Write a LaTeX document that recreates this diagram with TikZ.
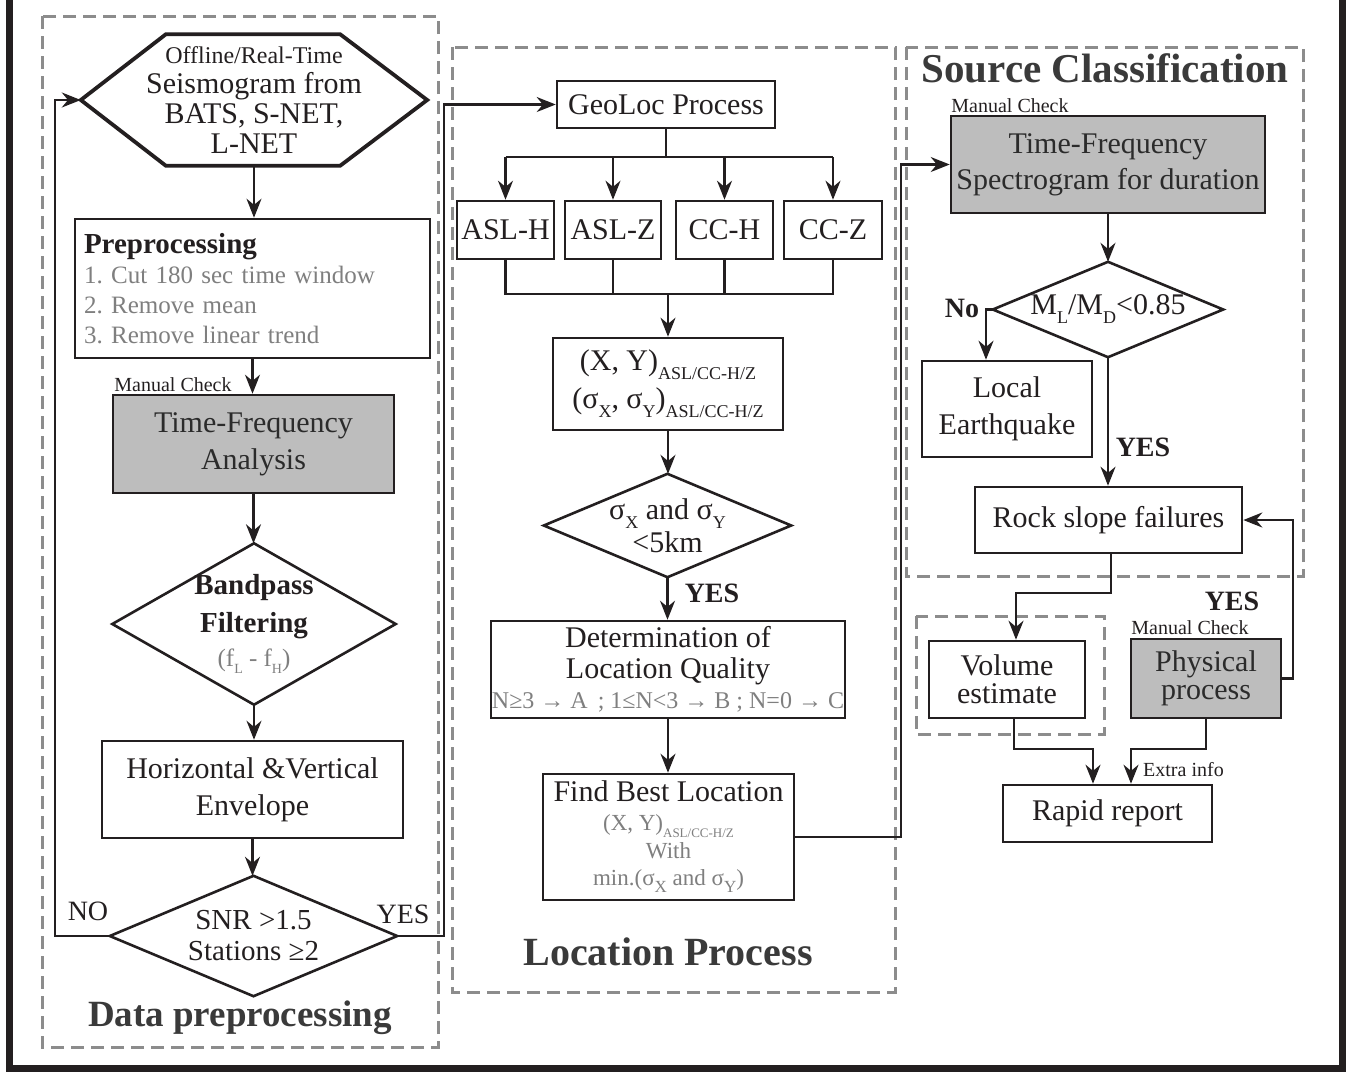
\documentclass[tikz,border=0pt]{standalone}
\usepackage{fontspec}
\setmainfont{Liberation Serif}
\usetikzlibrary{arrows.meta}
\frenchspacing
\newcommand{\fsz}[2]{\fontsize{#1}{#2}\selectfont}
\newcommand{\lsub}[2]{\raisebox{-0.3em}{\fontsize{#1}{#1}\selectfont #2}}
\definecolor{lc}{HTML}{231F20}
\definecolor{dgray}{HTML}{8C8C8C}
\definecolor{boxgray}{HTML}{BDBDBD}
\definecolor{tdark}{HTML}{2B2B2B}
\definecolor{tgray}{HTML}{7F7F7F}
\definecolor{ttitle}{HTML}{3A3A3A}
\begin{document}
\begin{tikzpicture}[x=1pt,y=-1pt,
  box/.style={draw=lc, line width=2.6pt, fill=white, inner sep=0pt, align=center, text=lc},
  gbox/.style={box, fill=boxgray, text=tdark},
  shapeonly/.style={inner sep=0pt, align=center, text=lc},
  dbox/.style={draw=dgray, line width=3pt, dash pattern=on 13pt off 7pt},
  ln/.style={draw=lc, line width=2.3pt},
  arr/.style={draw=lc, line width=2.3pt, -{Stealth[length=19pt,width=15pt]}},
  lbl/.style={inner sep=0pt, text=lc},
  title/.style={inner sep=0pt, text=ttitle, font=\bfseries}
]
\useasboundingbox (0,0) rectangle (1351,1072);
% outer frame
\draw[lc, line width=7pt] (9,0) -- (9,1068.5) -- (1342,1068.5) -- (1342,0);

% dashed groups
\draw[dbox] (42,16) rectangle (438,1047);
\draw[dbox] (452,47) rectangle (895,992);
\draw[dbox] (906,47) rectangle (1303,576);
\draw[dbox] (916,616) rectangle (1104,734);

% ---------- Data preprocessing ----------
\node[shapeonly, minimum width=346pt, minimum height=131pt, font=\fsz{30}{30}] (src) at (254,100)
  {{\fsz{24}{30}Offline/Real-Time}\\ Seismogram from\\ BATS, S-NET,\\ L-NET};
\draw[lc, line width=3.8pt, line join=miter]
  (src.west) -- ([xshift=85pt]src.north west) -- ([xshift=-87pt]src.north east) -- (src.east)
  -- ([xshift=-87pt]src.south east) -- ([xshift=85pt]src.south west) -- cycle;

\node[box, minimum width=355pt, minimum height=139pt, text width=337pt, inner xsep=9pt, align=left,
      font=\fsz{25}{30}, text=tgray] (pre) at (252.5,288.5)
  {{\fsz{29}{30}\bfseries\color{lc}Preprocessing}\\
   1. Cut 180 sec time window\\ 2. Remove mean\\ 3. Remove linear trend\\[-10pt]};

\node[lbl, font=\fsz{20}{20}] (mc1) at (173,385) {Manual Check};
\node[gbox, minimum width=281pt, minimum height=98pt, font=\fsz{30}{37}] (tfa) at (253.5,444)
  {Time-Frequency\\ Analysis};

\node[shapeonly, minimum width=283pt, minimum height=161pt, font=\fsz{29}{38}\bfseries] (bp) at (254,624)
  {Bandpass\\ Filtering\\[-4pt] {\fsz{25}{28}\mdseries\color{tgray}(f\lsub{14}{L} - f\lsub{14}{H})}};
\draw[lc, line width=2.6pt] (bp.north) -- (bp.east) -- (bp.south) -- (bp.west) -- cycle;

\node[box, minimum width=301pt, minimum height=97pt, font=\fsz{30}{37}] (env) at (252.5,789.5)
  {Horizontal \&Vertical\\ Envelope};

\node[shapeonly, minimum width=287pt, minimum height=120pt, font=\fsz{29}{31}] (snr) at (253.5,936)
  {SNR >1.5\\ Stations ≥2};
\draw[lc, line width=2.6pt] (snr.north) -- (snr.east) -- (snr.south) -- (snr.west) -- cycle;

\node[lbl, font=\fsz{28}{28}] (no1) at (88,911) {NO};
\node[lbl, font=\fsz{28}{28}] (yes1) at (403,914) {YES};
\node[title, font=\fsz{37}{37}\bfseries] (t1) at (240,1018) {Data preprocessing};

\draw[arr] (src.south) -- (src.south |- pre.north);
\draw[arr] (pre.south) -- (pre.south |- tfa.north);
\draw[arr] (tfa.south) -- (tfa.south |- bp.north);
\draw[arr] (bp.south) -- (bp.south |- env.north);
\draw[arr] (env.south) -- (env.south |- snr.north);
\draw[arr] (snr.west) -- ++(-55,0) |- (src.west);

% ---------- Location process ----------
\node[box, minimum width=218pt, minimum height=47pt, font=\fsz{30}{30}] (geo) at (666,104.5) {GeoLoc Process};
\node[box, minimum width=97pt, minimum height=58pt, font=\fsz{30}{30}] (aslh) at (505.5,230) {ASL-H};
\node[box, minimum width=96pt, minimum height=58pt, font=\fsz{30}{30}] (aslz) at (613,230) {ASL-Z};
\node[box, minimum width=97pt, minimum height=58pt, font=\fsz{30}{30}] (cch) at (724.5,230) {CC-H};
\node[box, minimum width=98pt, minimum height=58pt, font=\fsz{30}{30}] (ccz) at (833,230) {CC-Z};
\node[box, minimum width=230pt, minimum height=92pt, font=\fsz{30}{38}] (xy) at (668,384)
  {(X, Y)\lsub{18}{ASL/CC-H/Z}\\ (σ\lsub{18}{X}, σ\lsub{18}{Y})\lsub{18}{ASL/CC-H/Z}};
\node[shapeonly, minimum width=247pt, minimum height=103pt, font=\fsz{30}{33}] (sig) at (667.5,525.5)
  {σ\lsub{18}{X} and σ\lsub{18}{Y}\\ <5km};
\draw[lc, line width=2.6pt] (sig.north) -- (sig.east) -- (sig.south) -- (sig.west) -- cycle;
\node[lbl, font=\fsz{28}{28}\bfseries] (yes2) at (712,593) {YES};
\node[box, minimum width=354pt, minimum height=97pt, font=\fsz{30}{31}] (det) at (668,669.5)
  {Determination of\\ Location Quality\\[-1pt] {\fsz{24}{28}\color{tgray}N≥3 → A \,; 1≤N<3 → B ; N=0 → C}};
\node[box, minimum width=251pt, minimum height=126pt, font=\fsz{23}{27}, text=tgray] (best) at (668.5,837)
  {{\fsz{30}{30}\color{lc}Find Best Location}\\[2pt] (X, Y)\lsub{13}{ASL/CC-H/Z}\\[1pt] With\\ min.(σ\lsub{17}{X} and σ\lsub{17}{Y})};
\node[title, font=\fsz{40}{40}\bfseries] (t2) at (668,952) {Location Process};

\draw[arr] (snr.east) -- ++(47,0) |- (geo.west);
\coordinate (split) at (geo.south |- 0,157);
\draw[ln] (geo.south) -- (split);
\draw[ln] (aslh.north |- split) -- (ccz.north |- split);
\draw[arr] (aslh.north |- split) -- (aslh.north);
\draw[arr] (aslz.north |- split) -- (aslz.north);
\draw[arr] (cch.north |- split) -- (cch.north);
\draw[arr] (ccz.north |- split) -- (ccz.north);
\coordinate (merge) at (xy.north |- 0,294);
\draw[ln] (aslh.south) -- (aslh.south |- merge) -- (ccz.south |- merge) -- (ccz.south);
\draw[ln] (aslz.south) -- (aslz.south |- merge);
\draw[ln] (cch.south) -- (cch.south |- merge);
\draw[arr] (merge) -- (xy.north);
\draw[arr] (xy.south) -- (xy.south |- sig.north);
\draw[arr] (sig.south) -- (sig.south |- det.north);
\draw[arr] (det.south) -- (det.south |- best.north);

% ---------- Source classification ----------
\node[title, font=\fsz{41}{41}\bfseries] (t3) at (1105,68) {Source Classification};
\node[lbl, font=\fsz{20}{20}] (mc2) at (1010,106) {Manual Check};
\node[gbox, minimum width=314pt, minimum height=97pt, font=\fsz{30}{36}] (tfs) at (1108,164.5)
  {Time-Frequency\\ Spectrogram for duration};
\node[shapeonly, minimum width=230pt, minimum height=95pt, font=\fsz{30}{30}] (ml) at (1108,309.5)
  {M\lsub{18}{L}/M\lsub{18}{D}<0.85};
\draw[lc, line width=2.6pt] (ml.north) -- (ml.east) -- (ml.south) -- (ml.west) -- cycle;
\node[lbl, font=\fsz{28}{28}\bfseries] (no2) at (962,308) {No};
\node[box, minimum width=170pt, minimum height=96pt, font=\fsz{30}{37}] (leq) at (1007,409)
  {Local\\ Earthquake};
\node[lbl, font=\fsz{28}{28}\bfseries] (yes3) at (1143,447) {YES};
\node[box, minimum width=267pt, minimum height=66pt, font=\fsz{30}{30}] (rock) at (1108.5,520) {Rock slope failures};
\node[box, minimum width=156pt, minimum height=77pt, font=\fsz{30}{28}] (vol) at (1007,679.5) {Volume\\ estimate};
\node[lbl, font=\fsz{20}{20}] (mc3) at (1190,628) {Manual Check};
\node[gbox, minimum width=150pt, minimum height=79pt, font=\fsz{30}{28}] (phys) at (1206,678.5) {Physical\\ process};
\node[lbl, font=\fsz{28}{28}\bfseries] (yes4) at (1232,601) {YES};
\node[box, minimum width=209pt, minimum height=57pt, font=\fsz{30}{30}] (rap) at (1107.5,813.5) {Rapid report};
\node[lbl, font=\fsz{20}{20}, anchor=west] (xi) at (1143,770) {Extra info};

\draw[arr] (best.east) -- ++(106,0) |- (tfs.west);
\draw[arr] (tfs.south) -- (tfs.south |- ml.north);
\draw[arr] (ml.west) -| ([xshift=-21pt]leq.north);
\draw[arr] (ml.south) -- (ml.south |- rock.north);
\draw[arr] ([xshift=2.5pt]rock.south) -- ++(0,39) -| ([xshift=9pt]vol.north);
\draw[arr] (phys.east) -- ++(11,0) |- (rock.east);
\draw[arr] ([xshift=7pt]vol.south) -- ++(0,30) -| ([xshift=-14.5pt]rap.north);
\draw[arr] (phys.south) -- ++(0,29.5) -| ([xshift=23.5pt]rap.north);
\end{tikzpicture}
\end{document}
